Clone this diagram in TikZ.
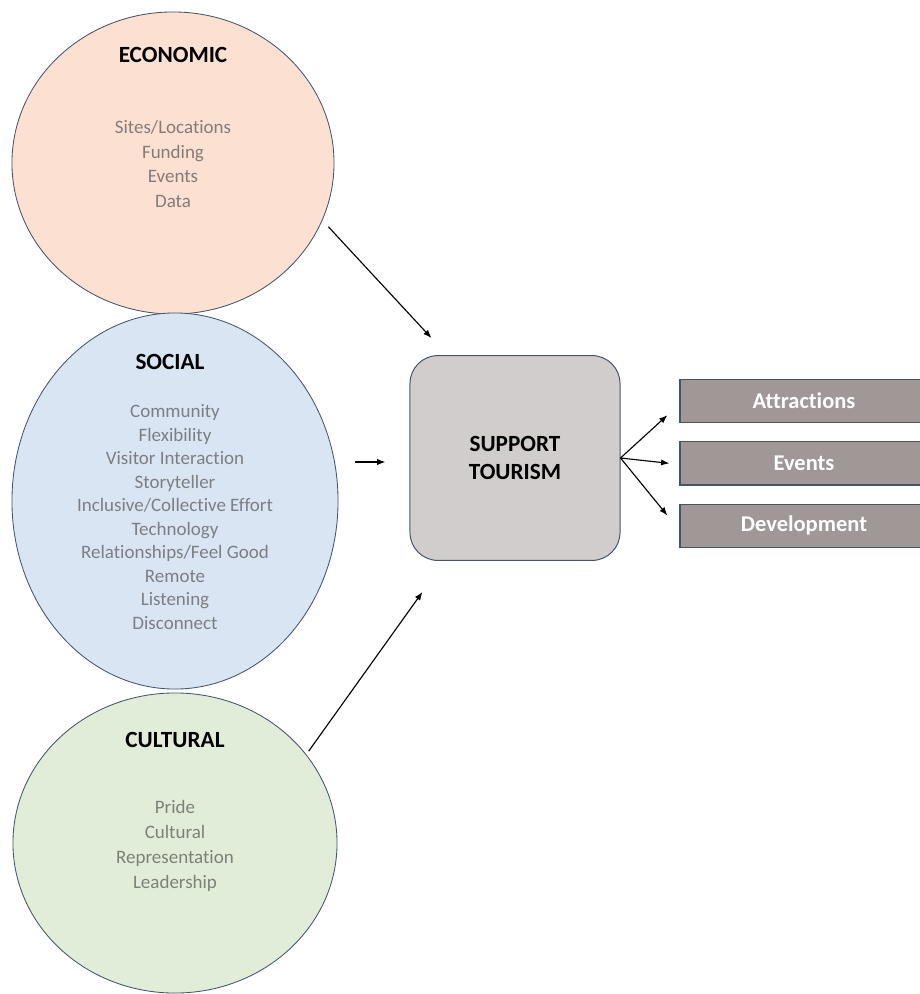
\documentclass[tikz,border=0pt]{standalone}
\usepackage{fontspec}
\setmainfont{Carlito}[Ligatures=NoCommon]
\usepackage{xcolor}
\usepackage{tikz}
\usetikzlibrary{positioning,shapes,arrows}
\usetikzlibrary{arrows.meta}
\tikzset{>={Latex[scale=0.9]}}

\definecolor{edgeblue}{HTML}{44546A}
\definecolor{econfill}{HTML}{FCE1D3}
\definecolor{socialfill}{HTML}{DAE5F3}
\definecolor{cultfill}{HTML}{E2EDD9}
\definecolor{hubfill}{HTML}{D0CDCC}
\definecolor{outfill}{HTML}{A09896}
\definecolor{itemgray}{HTML}{7B7F84}
\definecolor{econgray}{HTML}{857B78}
\definecolor{cultgray}{HTML}{7C8178}

\tikzstyle{pillar}=[ellipse, draw=edgeblue, line width=0.6pt, inner sep=0]
\tikzstyle{pillartitle}=[text=black, font=\fontsize{16.5}{20}\selectfont\bfseries]
\tikzstyle{items}=[text=itemgray, align=center, font=\fontsize{13.5}{17.2}\selectfont]
\tikzstyle{hub}=[rectangle, rounded corners=0.7cm, draw=edgeblue, line width=0.7pt, fill=hubfill, minimum width=5.25cm, minimum height=5.12cm, align=center, font=\fontsize{16.5}{20.5}\selectfont\bfseries]
\tikzstyle{outcome}=[rectangle, draw=edgeblue, line width=0.8pt, fill=outfill, text=white, minimum width=6.2cm, minimum height=1.08cm, font=\fontsize{16}{19}\selectfont\bfseries]

\begin{document}
\begin{tikzpicture}[x=0.025cm, y=-0.025cm, every path/.style={line width=0.8pt}]
        \useasboundingbox (0,0) rectangle (920,994);

        % three pillars
        \node(econ)[pillar, fill=econfill, minimum width=8.05cm, minimum height=7.55cm] at (173,163) {};
        \node(social)[pillar, fill=socialfill, minimum width=8.15cm, minimum height=9.4cm] at (175,501) {};
        \node(cult)[pillar, fill=cultfill, minimum width=8.1cm, minimum height=7.5cm] at (175,843) {};

        \node(econTitle)[pillartitle] at (173,55) {ECONOMIC};
        \node(econItems)[items, text=econgray, font=\fontsize{13.5}{17.6}\selectfont] at (173,164) {Sites/Locations\\Funding\\Events\\Data};

        \node(socialTitle)[pillartitle] at (170,362) {SOCIAL};
        \node(socialItems)[items, font=\fontsize{13.5}{16.7}\selectfont] at (175,517) {Community\\Flexibility\\Visitor Interaction\\Storyteller\\Inclusive/Collective Effort\\Technology\\Relationships/Feel Good\\Remote\\Listening\\Disconnect};

        \node(cultTitle)[pillartitle] at (175,740) {CULTURAL};
        \node(cultItems)[items, text=cultgray, font=\fontsize{13.5}{17.8}\selectfont] at (175,846) {Pride\\Cultural\\Representation\\Leadership};

        % centre box
        \node(hub)[hub] at (515,458) {SUPPORT\\TOURISM};

        % outcomes
        \node(out1)[outcome] at (804,401) {Attractions};
        \foreach \i/\lbl in {2/Events,3/Development}{
            \pgfmathtruncatemacro{\lasti}{\i-1}
            \node(out\i)[outcome, below=0.45cm of out\lasti]{\lbl};
        };

        % inputs
        \coordinate (socialOut) at (social.east |- hub.west);
        \draw [->, shorten <=0.22cm] (econ.-21) -- ([shift={(22,-17)}]hub.north west);
        \draw [->, shorten <=0.42cm, shorten >=0.6cm] ([yshift=-0.1cm]socialOut) -- ([yshift=-0.1cm]hub.west);
        \draw [->, shorten <=0.1cm] (cult.34) -- ([shift={(13,31)}]hub.south west);

        % outputs
        \draw [->] (hub.east) -- ([shift={(-12,-8)}]out1.south west);
        \draw [->] (hub.east) -- ([xshift=-0.25cm]out2.west);
        \draw [->] (hub.east) -- ([shift={(-12,12)}]out3.north west);

    \end{tikzpicture}
\end{document}
